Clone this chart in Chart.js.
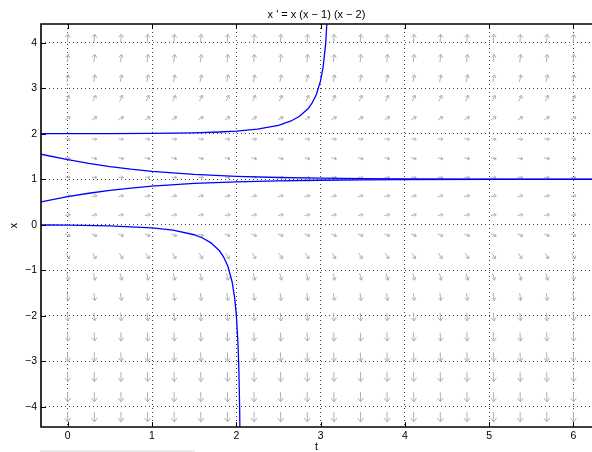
<!DOCTYPE html>
<html><head><meta charset="utf-8">
<script src="https://cdn.jsdelivr.net/npm/chart.js@4.4.1/dist/chart.umd.min.js"></script>
<style>html,body{margin:0;padding:0;background:#fff;}#wrap{width:592px;height:452px;}</style>
</head><body><div id="wrap"><canvas id="c" width="592" height="452"></canvas></div>
<script>
// ---- data ----
const chartTitle = "x ' = x (x \u2212 1) (x \u2212 2)";
const xTickValues = [0, 1, 2, 3, 4, 5, 6];
const xTickLabels = ['0', '1', '2', '3', '4', '5', '6'];
const yTickValues = [-4, -3, -2, -1, 0, 1, 2, 3, 4];
const yTickLabels = ['\u22124', '\u22123', '\u22122', '\u22121', '0', '1', '2', '3', '4'];

// direction-field grid (columns in t, rows in x) and slope x' on each row
const fieldCols = [0, 0.316, 0.632, 0.947, 1.263, 1.579, 1.895, 2.211, 2.526, 2.842, 3.158, 3.474, 3.789, 4.105, 4.421, 4.737, 5.053, 5.368, 5.684, 6.0];
const fieldRows = [-4.22, -3.78, -3.34, -2.90, -2.46, -2.02, -1.58, -1.14, -0.685, -0.224, 0.215, 0.632, 1.043, 1.46, 1.884, 2.339, 2.778, 3.217, 3.656, 4.095];
const rowSlopes = [-137.0, -104.4, -77.4, -55.4, -38.0, -24.5, -14.6, -7.66, -3.10, -0.610, 0.301, 0.318, -0.043, -0.363, -0.193, 1.062, 3.843, 8.680, 16.08, 26.55];

// solution curves
const sol1T = [-0.317, 0.5, 1.0, 1.5, 1.8, 2.0, 2.25, 2.5, 2.65, 2.75, 2.85, 2.9, 2.95, 3.0, 3.03, 3.06, 3.08, 3.1];
const sol1X = [2.0005, 2.003, 2.007, 2.020, 2.038, 2.058, 2.101, 2.186, 2.281, 2.383, 2.548, 2.676, 2.863, 3.165, 3.464, 3.973, 4.606, 6.05];
const sol2T = [-0.317, 0, 0.25, 0.5, 0.75, 1.0, 1.5, 2.0, 2.5, 3.0, 3.5, 4.0, 5.0, 6.22];
const sol2X = [1.55, 1.432, 1.35, 1.279, 1.221, 1.174, 1.106, 1.065, 1.039, 1.024, 1.0145, 1.0088, 1.0032, 1.0008];
const sol3T = [-0.317, 0, 0.25, 0.5, 0.75, 1.0, 1.5, 2.0, 2.5, 3.0, 3.5, 4.0, 5.0, 6.22];
const sol3X = [0.505, 0.617, 0.693, 0.756, 0.808, 0.849, 0.908, 0.944, 0.966, 0.979, 0.9874, 0.9924, 0.9972, 0.9992];
const sol4T = [-0.317, 0, 0.5, 1.0, 1.25, 1.5, 1.6, 1.7, 1.8, 1.85, 1.9, 1.95, 1.98, 2.0, 2.02, 2.03, 2.04, 2.045];
const sol4X = [-0.004, -0.008, -0.023, -0.066, -0.117, -0.218, -0.289, -0.396, -0.570, -0.707, -0.911, -1.25, -1.60, -1.97, -2.61, -3.15, -4.05, -4.82];

// ---- build library structures ----
const fieldData = [];
fieldRows.forEach((r, i) => fieldCols.forEach(c => fieldData.push({x: c, y: r, s: rowSlopes[i]})));
const pts = (T, X) => T.map((t, i) => ({x: t, y: X[i]}));
const FONT = 'Liberation Sans, Arial, Helvetica, sans-serif';

const arrowPlugin = {
  id: 'arrows',
  beforeDatasetsDraw(chart) {
    const ctx = chart.ctx, a = chart.chartArea;
    const xs = chart.scales.x, ys = chart.scales.y;
    const ppx = Math.abs(xs.getPixelForValue(1) - xs.getPixelForValue(0));
    const ppy = Math.abs(ys.getPixelForValue(1) - ys.getPixelForValue(0));
    const meta = chart.getDatasetMeta(0);
    const data = chart.data.datasets[0].data;
    ctx.save();
    ctx.beginPath(); ctx.rect(a.left, a.top, a.right - a.left, a.bottom - a.top); ctx.clip();
    ctx.strokeStyle = '#b0b0b0'; ctx.lineWidth = 1; ctx.lineCap = 'butt'; ctx.lineJoin = 'miter';
    meta.data.forEach((el, i) => {
      const s = data[i].s;
      let dx = ppx, dy = -s * ppy;
      const n = Math.hypot(dx, dy); const ux = dx / n, uy = dy / n;
      const L = 5 + Math.log(1 + Math.abs(s));
      const x0 = el.x - ux * L / 2, y0 = el.y - uy * L / 2;
      const x1 = el.x + ux * L / 2, y1 = el.y + uy * L / 2;
      const h = Math.max(2.5, L * 0.5), ang = 0.65;
      const bx = -ux, by = -uy;
      const c = Math.cos(ang), sn = Math.sin(ang);
      ctx.beginPath();
      ctx.moveTo(x0, y0); ctx.lineTo(x1, y1);
      ctx.moveTo(x1 + h * (bx * c - by * sn), y1 + h * (bx * sn + by * c));
      ctx.lineTo(x1, y1);
      ctx.lineTo(x1 + h * (bx * c + by * sn), y1 + h * (-bx * sn + by * c));
      ctx.stroke();
    });
    ctx.restore();
  },
  afterDraw(chart) {
    const ctx = chart.ctx, a = chart.chartArea;
    const xs = chart.scales.x, ys = chart.scales.y;
    ctx.save();
    ctx.strokeStyle = '#000';
    ctx.lineWidth = 1;
    ctx.beginPath();
    xTickValues.forEach(v => {
      const p = Math.round(xs.getPixelForValue(v)) + 0.5;
      ctx.moveTo(p, a.bottom); ctx.lineTo(p, a.bottom - 5);
      ctx.moveTo(p, a.top); ctx.lineTo(p, a.top + 5);
    });
    yTickValues.forEach(v => {
      const p = Math.round(ys.getPixelForValue(v)) + 0.5;
      ctx.moveTo(a.left, p); ctx.lineTo(a.left + 5, p);
    });
    ctx.stroke();
    ctx.lineWidth = 1.6;
    ctx.beginPath();
    ctx.moveTo(a.right, a.top); ctx.lineTo(a.left, a.top); ctx.lineTo(a.left, a.bottom); ctx.lineTo(a.right, a.bottom);
    ctx.stroke();
    ctx.fillStyle = '#ebebeb';
    ctx.fillRect(40, 450, 155, 2);
    ctx.restore();
  }
};

const lineDs = (T, X) => ({
  type: 'scatter', data: pts(T, X), showLine: true, borderColor: '#0000ff', borderWidth: 1.3,
  pointRadius: 0, pointHoverRadius: 0, tension: 0, clip: 0, fill: false
});

new Chart(document.getElementById('c'), {
  type: 'scatter',
  data: {
    datasets: [
      {data: fieldData, pointRadius: 0, pointHoverRadius: 0, showLine: false},
      lineDs(sol1T, sol1X), lineDs(sol2T, sol2X), lineDs(sol3T, sol3X), lineDs(sol4T, sol4X)
    ]
  },
  options: {
    responsive: false, animation: false, devicePixelRatio: 1,
    layout: {padding: 0},
    events: [],
    plugins: {
      legend: {display: false}, tooltip: {enabled: false},
      title: {display: true, fullSize: false, text: chartTitle, color: '#000', font: {family: FONT, size: 11, weight: 'normal'}, padding: {top: 8, bottom: 2.8}}
    },
    scales: {
      x: {
        type: 'linear', min: -0.317, max: 6.22,
        afterBuildTicks: s => { s.ticks = xTickValues.map(v => ({value: v})); },
        afterFit: s => { s.height = 25; },
        ticks: {callback: (v) => xTickLabels[xTickValues.indexOf(v)], color: '#000', font: {family: FONT, size: 10.5}, padding: 3, maxRotation: 0, autoSkip: false},
        grid: {color: '#444', lineWidth: 1, drawTicks: false},
        border: {display: false, dash: [1, 3]},
        title: {display: true, text: 't', color: '#000', font: {family: FONT, size: 10.5}, padding: {top: 0, bottom: -1.5}}
      },
      y: {
        type: 'linear', min: -4.44, max: 4.41,
        afterBuildTicks: s => { s.ticks = yTickValues.map(v => ({value: v})); },
        afterFit: s => { s.width = 41; },
        ticks: {callback: (v) => yTickLabels[yTickValues.indexOf(v)], color: '#000', font: {family: FONT, size: 10.5}, padding: 4, autoSkip: false},
        grid: {color: '#444', lineWidth: 1, drawTicks: false},
        border: {display: false, dash: [1, 3]},
        title: {display: true, text: 'x', color: '#000', font: {family: FONT, size: 10.5}, padding: {top: 8, bottom: 0}}
      }
    }
  },
  plugins: [arrowPlugin]
});
</script>
</body></html>
